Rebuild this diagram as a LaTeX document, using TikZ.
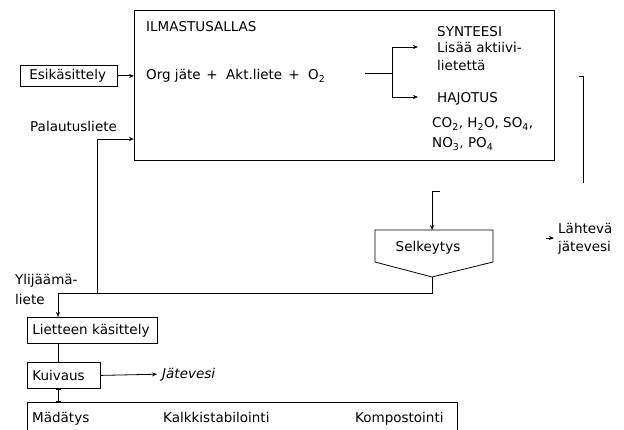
\documentclass[tikz,border=0pt]{standalone}
\usepackage{fontspec}
\setmainfont{DejaVu Sans}
\usetikzlibrary{arrows.meta}
\newcommand{\fs}{\fontsize{13.5}{16}\selectfont}
\tikzset{
  ln/.style={draw=black, line width=0.8pt},
  arr/.style={ln, -{Stealth[length=5pt,width=4pt]}},
  txt/.style={anchor=base west, inner sep=0pt, font=\fs},
  boxst/.style={ln, anchor=north west, inner ysep=0pt, align=left, font=\fs},
}
\begin{document}
\begin{tikzpicture}[x=1pt,y=-1pt]
\useasboundingbox (0,0) rectangle (624,430);

% aeration tank
\node[ln, anchor=north west, minimum width=420pt, minimum height=150pt, inner sep=0pt] (tank) at (134,10) {};
\node[txt] (ilm) at (146,32) {ILMASTUSALLAS};
\node[txt] (org) at (146,80) {Org jäte};
\node[txt, anchor=base] (p1) at (212,80) {+};
\node[txt] (akt) at (226,80) {Akt.liete};
\node[txt, anchor=base] (p2) at (294,80) {+};
\node[txt] (o2) at (308,80) {O\textsubscript{2}};

\node[txt] (syn) at (437,37) {SYNTEESI};
\node[txt] (lis) at (437,53) {Lisää aktiivi-};
\node[txt] (lie) at (437,71) {lietettä};
\node[txt] (haj) at (437,103) {HAJOTUS};
\node[txt] (co2) at (432,128) {CO\textsubscript{2}, H\textsubscript{2}O, SO\textsubscript{4},};
\node[txt] (no3) at (432,148) {NO\textsubscript{3}, PO\textsubscript{4}};

\coordinate (sin) at (365,73);
\coordinate (split) at (392,73);
\coordinate (a1) at (418,47);
\coordinate (a2) at (418,97);
\draw[ln] (sin) -- (split);
\draw[arr] (split) |- (a1);
\draw[arr] (split) |- (a2);

% pre-treatment
\node[boxst, minimum width=97pt, minimum height=21pt, inner xsep=9pt, text width=79pt] (esi) at (20,65) {Esikäsittely};
\draw[arr] (esi.east) -- (esi.east -| tank.west);

\node[txt] (pal) at (30,132) {Palautusliete};

% outflow line
\coordinate (of1) at (579,76);
\coordinate (of2) at (583,76);
\coordinate (of3) at (583,183);
\draw[ln] (of1) -- (of2) -- (of3);

% clarifier
\coordinate (ctl) at (375,230);
\coordinate (ctr) at (493,230);
\coordinate (cbl) at (375,262);
\coordinate (cbr) at (493,262);
\coordinate (ctip) at (432,277);
\draw[ln] (cbl) -- (ctl) -- (ctr) -- (cbr) -- (ctip) -- cycle;
\node[txt, anchor=base] (sel) at (428,252) {Selkeytys};
\coordinate (cf) at (440,191);
\draw[arr] (cf) -| (ctl -| ctip);

% effluent
\coordinate (ef) at (546,238);
\coordinate (eft) at (554,238);
\node[txt] (lah) at (558,234) {Lähtevä};
\node[txt] (lah2) at (558,252) {jätevesi};
\draw[arr] (ef) -- (eft);

% return sludge
\coordinate (rj) at (97,293);
\draw[arr] (ctip) |- (rj) |- (tank.west |- 0,139);

% surplus sludge
\node[txt] (yli) at (15,285) {Ylijäämä-};
\node[txt] (ylil) at (15,305) {liete};
\node[boxst, minimum width=130pt, minimum height=26pt, inner xsep=5pt, text width=120pt] (lk) at (27,317) {Lietteen käsittely};
\draw[arr] (rj) -| ([xshift=31pt]lk.north west);

\node[boxst, minimum width=73pt, minimum height=26pt, inner xsep=5pt, text width=63pt] (ku) at (27,362) {Kuivaus};
\draw[ln] ([xshift=31pt]lk.south west) -- ([xshift=31pt]ku.north west);

\node[txt, font=\fs\itshape] (jv) at (162,378) {Jätevesi};
\draw[arr] (ku.east) -- ([xshift=-5pt]jv.west);

% final treatment
\node[anchor=north west, minimum width=430pt, minimum height=28pt, inner sep=0pt] (fin) at (27,402) {};
\draw[ln] (fin.south west) -- (fin.north west) -- (fin.north east) -- (fin.south east);
\draw[ln, {Bar[width=5pt]}-{Bar[width=5pt]}] ([xshift=31pt]ku.south west) -- ([xshift=31pt]fin.north west);
\node[txt] (mad) at (32,422) {Mädätys};
\node[txt] (kal) at (163,422) {Kalkkistabilointi};
\node[txt] (kom) at (355,422) {Kompostointi};
\end{tikzpicture}
\end{document}
